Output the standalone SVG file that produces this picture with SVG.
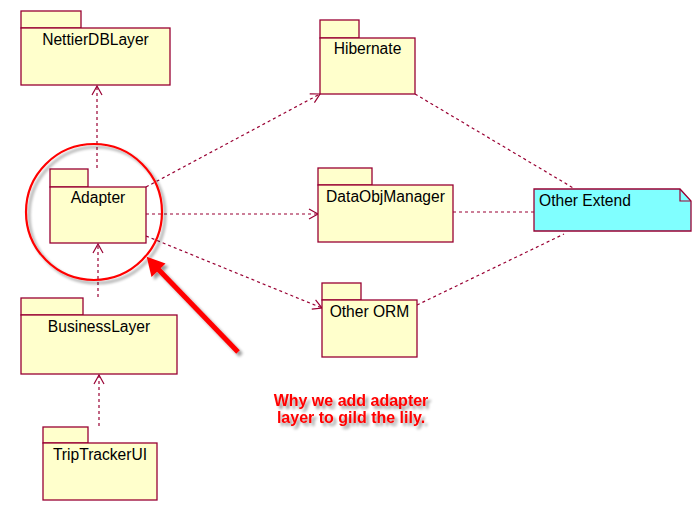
<svg xmlns="http://www.w3.org/2000/svg" width="700" height="519" viewBox="0 0 700 519">
<style>
.pkg{fill:#FFFFCC;stroke:#990033;stroke-width:1.3}
.note{fill:#80FFFF;stroke:#990033;stroke-width:1.3}
.lbl{font-family:"Liberation Sans",Arial,sans-serif;font-size:15.6px;fill:#000;text-anchor:middle}
.dep{fill:none;stroke:#990033;stroke-width:1.2;stroke-dasharray:3,3}
.link{fill:none;stroke:#990033;stroke-width:1.2;stroke-dasharray:3,3}
.red{font-family:"Liberation Sans",Arial,sans-serif;font-size:16px;font-weight:bold;fill:#FF0000;text-anchor:middle}
</style>
<defs>
<marker id="open" viewBox="0 0 12 12" refX="10" refY="6" markerWidth="12" markerHeight="12" markerUnits="userSpaceOnUse" orient="auto">
<path d="M1,1 L10,6 L1,11" fill="none" stroke="#990033" stroke-width="1.2"/>
</marker>
<filter id="shadow" x="-20%" y="-20%" width="150%" height="150%">
<feGaussianBlur in="SourceAlpha" stdDeviation="1.8" result="b"/>
<feOffset in="b" dx="3" dy="3" result="o"/>
<feComponentTransfer in="o" result="s"><feFuncA type="linear" slope="0.4"/></feComponentTransfer>
<feMerge><feMergeNode in="s"/><feMergeNode in="SourceGraphic"/></feMerge>
</filter>
</defs>
<g id="connectors">
<line class="dep" x1="97" y1="168" x2="97" y2="86" marker-end="url(#open)"/>
<line class="dep" x1="98" y1="297" x2="98" y2="244" marker-end="url(#open)"/>
<line class="dep" x1="99" y1="426" x2="99" y2="375" marker-end="url(#open)"/>
<line class="dep" x1="146" y1="187" x2="320" y2="94" marker-end="url(#open)"/>
<line class="dep" x1="146" y1="214" x2="318" y2="214" marker-end="url(#open)"/>
<line class="dep" x1="146" y1="236" x2="322" y2="308" marker-end="url(#open)"/>
<line class="link" x1="415" y1="94" x2="575" y2="189"/>
<line class="link" x1="453" y1="212" x2="534" y2="212"/>
<line class="link" x1="417" y1="305" x2="564" y2="234"/>
</g>
<g id="NettierDBLayer">
<rect class="pkg" x="21" y="11" width="60" height="17"/>
<rect class="pkg" x="21" y="28" width="149" height="57"/>
<text class="lbl" x="95.5" y="45">NettierDBLayer</text>
</g>
<g id="Adapter">
<rect class="pkg" x="50" y="169" width="38" height="18"/>
<rect class="pkg" x="50" y="187" width="96" height="56"/>
<text class="lbl" x="98" y="203">Adapter</text>
</g>
<g id="BusinessLayer">
<rect class="pkg" x="21" y="298" width="62" height="17"/>
<rect class="pkg" x="21" y="315" width="156" height="59"/>
<text class="lbl" x="99" y="332">BusinessLayer</text>
</g>
<g id="TripTrackerUI">
<rect class="pkg" x="43" y="427" width="45" height="16"/>
<rect class="pkg" x="43" y="443" width="114" height="57"/>
<text class="lbl" x="100" y="460">TripTrackerUI</text>
</g>
<g id="Hibernate">
<rect class="pkg" x="320" y="20" width="39" height="18"/>
<rect class="pkg" x="320" y="38" width="95" height="56"/>
<text class="lbl" x="367.5" y="54">Hibernate</text>
</g>
<g id="DataObjManager">
<rect class="pkg" x="318" y="168" width="54" height="17"/>
<rect class="pkg" x="318" y="185" width="135" height="57"/>
<text class="lbl" x="385.5" y="202">DataObjManager</text>
</g>
<g id="OtherORM">
<rect class="pkg" x="322" y="283" width="39" height="17"/>
<rect class="pkg" x="322" y="300" width="95" height="57"/>
<text class="lbl" x="369.5" y="317">Other ORM</text>
</g>
<g id="OtherExtend">
<path class="note" d="M534,189 L680,189 L691,201 L691,231 L534,231 Z"/>
<path d="M680,189 L680,201 L691,201" fill="none" stroke="#990033" stroke-width="1.2"/>
<text class="lbl" x="539" y="206" style="text-anchor:start">Other Extend</text>
</g>
<g id="annotation" filter="url(#shadow)">
<circle cx="94" cy="212" r="68" fill="none" stroke="#FF0000" stroke-width="2.2"/>
<line x1="238" y1="352" x2="158" y2="269" stroke="#FF0000" stroke-width="5"/>
<polygon points="146.7,256.7 165.5,263.5 151.5,277" fill="#FF0000"/>
<text class="red" x="351" y="406">Why we add adapter</text>
<text class="red" x="351" y="423">layer to gild the lily.</text>
</g>
</svg>
